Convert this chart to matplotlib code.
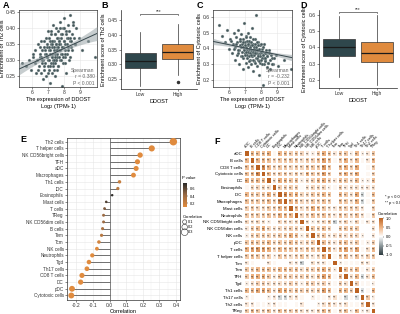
import numpy as np
import matplotlib
matplotlib.use("Agg")
import matplotlib.pyplot as plt
from matplotlib.colors import LinearSegmentedColormap, Normalize

plt.rcParams['font.family'] = ['Liberation Sans', 'DejaVu Sans']

# ---------------- data ----------------
xA = [5.38, 5.62, 5.81, 5.93, 6.02, 6.14, 6.18, 6.25, 6.31, 6.36,
      6.41, 6.45, 6.49, 6.52, 6.56, 6.58, 6.63, 6.66, 6.69, 6.72,
      6.75, 6.78, 6.81, 6.84, 6.87, 6.89, 6.92, 6.95, 6.97, 7.01,
      7.03, 7.05, 7.08, 7.1, 7.12, 7.14, 7.17, 7.19, 7.21, 7.23,
      7.25, 7.27, 7.29, 7.31, 7.33, 7.35, 7.37, 7.39, 7.41, 7.43,
      7.45, 7.48, 7.5, 7.52, 7.55, 7.57, 7.6, 7.62, 7.65, 7.67,
      7.7, 7.72, 7.75, 7.78, 7.8, 7.83, 7.86, 7.89, 7.92, 7.95,
      7.98, 8.02, 8.05, 8.09, 8.12, 8.16, 8.2, 8.24, 8.28, 8.33,
      8.38, 8.44, 8.5, 8.57, 8.65, 8.74, 8.9, 9.1, 9.45, 9.9]
yA = [0.29, 0.28, 0.30, 0.27, 0.31, 0.29, 0.33, 0.26, 0.30, 0.35,
      0.28, 0.32, 0.31, 0.26, 0.36, 0.29, 0.33, 0.24, 0.30, 0.34,
      0.27, 0.32, 0.29, 0.37, 0.25, 0.31, 0.34, 0.28, 0.39, 0.30,
      0.33, 0.27, 0.36, 0.23, 0.32, 0.29, 0.35, 0.38, 0.26, 0.31,
      0.34, 0.28, 0.41, 0.30, 0.33, 0.36, 0.29, 0.25, 0.38, 0.32,
      0.35, 0.30, 0.40, 0.27, 0.34, 0.31, 0.37, 0.28, 0.33, 0.36,
      0.30, 0.42, 0.35, 0.32, 0.38, 0.22, 0.34, 0.40, 0.29, 0.36,
      0.43, 0.31, 0.35, 0.39, 0.26, 0.37, 0.33, 0.41, 0.30, 0.36,
      0.44, 0.34, 0.38, 0.42, 0.35, 0.40, 0.37, 0.33, 0.36, 0.31]
xA2 = [6.05, 6.33, 6.47, 6.61, 6.7, 6.76, 6.82, 6.9, 6.93, 6.99,
       7.02, 7.06, 7.09, 7.13, 7.16, 7.2, 7.22, 7.26, 7.28, 7.32,
       7.34, 7.36, 7.4, 7.42, 7.44, 7.46, 7.49, 7.51, 7.53, 7.56,
       7.58, 7.61, 7.63, 7.66, 7.68, 7.71, 7.73, 7.76, 7.79, 7.81,
       7.84, 7.87, 7.9, 7.93, 7.96, 8.0, 8.03, 8.07, 8.1, 8.14,
       8.18, 8.22, 8.26, 8.31, 8.36, 8.41, 8.47, 8.53, 8.6, 8.68,
       6.54, 6.88, 7.07, 7.24, 7.38, 7.54, 7.69, 7.85, 8.02, 8.35]
yA2 = [0.32, 0.27, 0.34, 0.30, 0.36, 0.28, 0.33, 0.31, 0.35, 0.26,
       0.37, 0.30, 0.33, 0.28, 0.39, 0.31, 0.35, 0.32, 0.29, 0.36,
       0.27, 0.34, 0.31, 0.38, 0.29, 0.33, 0.35, 0.30, 0.37, 0.32,
       0.39, 0.34, 0.28, 0.36, 0.31, 0.33, 0.40, 0.35, 0.30, 0.37,
       0.32, 0.38, 0.34, 0.31, 0.36, 0.40, 0.33, 0.29, 0.38, 0.35,
       0.32, 0.37, 0.34, 0.39, 0.31, 0.36, 0.33, 0.41, 0.37, 0.35,
       0.31, 0.32, 0.34, 0.36, 0.30, 0.33, 0.35, 0.34, 0.32, 0.37]
fitA = (0.0228, 0.154)   # slope, intercept
statA = ["Spearman", "r = 0.380", "P < 0.001"]

xC = [5.35, 5.55, 5.72, 5.88, 5.97, 6.08, 6.15, 6.22, 6.28, 6.34,
      6.39, 6.44, 6.48, 6.51, 6.55, 6.59, 6.62, 6.65, 6.68, 6.71,
      6.74, 6.77, 6.8, 6.83, 6.86, 6.88, 6.91, 6.94, 6.96, 6.99,
      7.02, 7.04, 7.07, 7.09, 7.11, 7.13, 7.16, 7.18, 7.2, 7.22,
      7.24, 7.26, 7.28, 7.3, 7.32, 7.34, 7.36, 7.38, 7.4, 7.42,
      7.44, 7.47, 7.49, 7.51, 7.54, 7.56, 7.59, 7.61, 7.64, 7.66,
      7.69, 7.71, 7.74, 7.77, 7.79, 7.82, 7.85, 7.88, 7.91, 7.94,
      7.97, 8.01, 8.04, 8.08, 8.11, 8.15, 8.19, 8.23, 8.27, 8.32,
      8.37, 8.43, 8.49, 8.56, 8.64, 8.73, 8.88, 9.05, 9.4, 9.85]
yC = [0.55, 0.48, 0.44, 0.52, 0.40, 0.46, 0.37, 0.43, 0.50, 0.33,
      0.41, 0.47, 0.36, 0.44, 0.52, 0.39, 0.30, 0.45, 0.42, 0.35,
      0.49, 0.38, 0.43, 0.27, 0.46, 0.34, 0.40, 0.56, 0.37, 0.44,
      0.31, 0.41, 0.48, 0.36, 0.39, 0.45, 0.28, 0.42, 0.50, 0.35,
      0.38, 0.44, 0.33, 0.40, 0.47, 0.30, 0.37, 0.42, 0.53, 0.35,
      0.39, 0.26, 0.43, 0.36, 0.41, 0.32, 0.46, 0.38, 0.34, 0.61,
      0.40, 0.29, 0.37, 0.44, 0.33, 0.39, 0.23, 0.36, 0.42, 0.31,
      0.38, 0.34, 0.40, 0.17, 0.36, 0.30, 0.43, 0.33, 0.37, 0.28,
      0.35, 0.31, 0.39, 0.27, 0.34, 0.30, 0.36, 0.29, 0.33, 0.27]
xC2 = [6.1, 6.3, 6.45, 6.58, 6.67, 6.74, 6.8, 6.87, 6.92, 6.98,
       7.01, 7.05, 7.08, 7.12, 7.15, 7.19, 7.23, 7.25, 7.29, 7.31,
       7.35, 7.37, 7.39, 7.43, 7.45, 7.48, 7.5, 7.53, 7.55, 7.58,
       7.6, 7.63, 7.65, 7.68, 7.7, 7.73, 7.75, 7.78, 7.81, 7.84,
       7.86, 7.9, 7.93, 7.96, 7.99, 8.03, 8.06, 8.1, 8.13, 8.17,
       8.21, 8.25, 8.3, 8.35, 8.4, 8.46, 8.52, 8.59, 8.67, 8.8,
       6.52, 6.84, 7.03, 7.21, 7.33, 7.46, 7.62, 7.8, 7.98, 8.2]
yC2 = [0.45, 0.40, 0.43, 0.37, 0.46, 0.41, 0.35, 0.44, 0.39, 0.42,
       0.36, 0.47, 0.40, 0.34, 0.43, 0.38, 0.45, 0.32, 0.41, 0.37,
       0.44, 0.39, 0.35, 0.42, 0.38, 0.46, 0.33, 0.40, 0.36, 0.43,
       0.38, 0.31, 0.41, 0.37, 0.44, 0.34, 0.39, 0.42, 0.36, 0.32,
       0.40, 0.37, 0.35, 0.43, 0.33, 0.38, 0.30, 0.36, 0.41, 0.34,
       0.37, 0.32, 0.39, 0.35, 0.31, 0.37, 0.33, 0.36, 0.30, 0.34,
       0.39, 0.41, 0.38, 0.40, 0.36, 0.39, 0.37, 0.35, 0.38, 0.34]
fitC = (-0.021, 0.55)
statC = ["Spearman", "r = -0.232", "P < 0.001"]

groups = ["Low", "High"]
# q1, median, q3, whisker low, whisker high, outliers
boxB = [(0.287, 0.310, 0.338, 0.225, 0.410, []),
        (0.318, 0.342, 0.368, 0.265, 0.435, [0.240])]
boxD = [(0.344, 0.403, 0.452, 0.218, 0.594, []),
        (0.310, 0.368, 0.434, 0.169, 0.600, [])]

cells_E = ["Th2 cells", "T helper cells", "NK CD56bright cells", "TFH", "aDC",
           "Macrophages", "Th1 cells", "iDC", "Eosinophils", "Mast cells",
           "T cells", "TReg", "NK CD56dim cells", "B cells", "Tem", "Tcm",
           "NK cells", "Neutrophils", "Tgd", "Th17 cells", "CD8 T cells",
           "DC", "pDC", "Cytotoxic cells"]
corr_E = [0.384, 0.254, 0.184, 0.168, 0.160, 0.144, 0.060, 0.050, 0.016,
          -0.020, -0.030, -0.036, -0.036, -0.042, -0.048, -0.064, -0.076,
          -0.104, -0.124, -0.136, -0.166, -0.174, -0.226, -0.230]
pval_E = [0.0, 0.0, 0.0, 0.0, 0.0, 0.0, 0.21, 0.27, 0.75, 0.66, 0.52, 0.42,
          0.42, 0.35, 0.29, 0.16, 0.09, 0.02, 0.0, 0.0, 0.0, 0.0, 0.0, 0.0]

cells_F = ["aDC", "B cells", "CD8 T cells", "Cytotoxic cells", "DC",
           "Eosinophils", "iDC", "Macrophages", "Mast cells", "Neutrophils",
           "NK CD56bright cells", "NK CD56dim cells", "NK cells", "pDC",
           "T cells", "T helper cells", "Tcm", "Tem", "TFH", "Tgd",
           "Th1 cells", "Th17 cells", "Th2 cells", "TReg"]
lower_F = [
    [],
    [0.45],
    [0.40, 0.45],
    [0.40, 0.45, 0.75],
    [0.50, 0.40, 0.45, 0.45],
    [0.05, 0.25, 0.25, 0.25, 0.20],
    [0.45, 0.35, 0.35, 0.35, 0.50, 0.30],
    [0.40, 0.35, 0.35, 0.35, 0.45, 0.30, 0.75],
    [0.30, 0.35, 0.25, 0.25, 0.35, 0.30, 0.45, 0.45],
    [0.35, 0.35, 0.35, 0.35, 0.40, 0.30, 0.50, 0.45, 0.45],
    [0.25, 0.20, 0.25, 0.20, 0.10, 0.03, 0.25, 0.25, 0.20, 0.25],
    [0.15, 0.35, 0.40, 0.50, 0.25, 0.20, 0.25, 0.25, 0.30, 0.30, 0.20],
    [0.10, 0.30, 0.35, 0.35, 0.30, 0.25, 0.35, 0.35, 0.50, 0.40, 0.10, 0.35],
    [0.35, 0.40, 0.35, 0.35, 0.45, 0.25, 0.35, 0.30, 0.40, 0.35, 0.20, 0.30, 0.35],
    [0.50, 0.60, 0.65, 0.60, 0.50, 0.25, 0.45, 0.40, 0.35, 0.40, 0.25, 0.40, 0.35, 0.40],
    [0.35, 0.40, 0.35, 0.30, 0.30, 0.10, 0.35, 0.30, 0.20, 0.30, 0.35, 0.25, 0.15, 0.25, 0.50],
    [0.15, 0.05, 0.00, 0.00, 0.15, 0.05, 0.00, 0.00, 0.15, 0.15, -0.25, 0.00, 0.20, 0.15, 0.15, 0.05],
    [0.35, 0.35, 0.45, 0.40, 0.40, 0.30, 0.45, 0.40, 0.35, 0.40, 0.20, 0.35, 0.30, 0.40, 0.50, 0.35, 0.10],
    [0.35, 0.50, 0.50, 0.50, 0.35, 0.15, 0.35, 0.35, 0.30, 0.30, 0.30, 0.35, 0.20, 0.40, 0.60, 0.45, 0.05, 0.40],
    [0.10, 0.20, 0.30, 0.30, 0.20, 0.20, 0.20, 0.20, 0.30, 0.25, 0.10, 0.35, 0.30, 0.20, 0.30, 0.15, 0.05, 0.30, 0.20],
    [0.45, 0.45, 0.55, 0.55, 0.45, 0.20, 0.55, 0.50, 0.30, 0.40, 0.30, 0.35, 0.25, 0.35, 0.60, 0.40, 0.05, 0.45, 0.45, 0.30],
    [0.10, 0.05, 0.00, 0.00, 0.10, 0.15, -0.20, -0.20, 0.15, 0.20, 0.05, 0.00, 0.10, 0.05, 0.05, 0.15, 0.20, 0.05, -0.20, 0.05, -0.15],
    [0.15, 0.15, 0.05, 0.05, 0.10, 0.15, 0.05, 0.05, 0.00, 0.05, 0.15, 0.00, 0.00, 0.10, 0.20, 0.30, 0.15, 0.15, 0.20, 0.05, 0.05, 0.35],
    [0.35, 0.45, 0.35, 0.30, 0.40, 0.20, 0.40, 0.35, 0.30, 0.35, 0.20, 0.20, 0.15, 0.30, 0.45, 0.35, 0.05, 0.30, 0.40, 0.10, 0.45, 0.10, 0.15],
]

# ---------------- style ----------------
DARK = '#2f474c'
ORANGE = '#e08b3e'
TICK = 3.6
LAB = 4.0
W, H = 400, 314

fig = plt.figure(figsize=(4.0, 3.14), dpi=100)

def rect(x0, y0, x1, y1):
    return [x0 / W, 1 - y1 / H, (x1 - x0) / W, (y1 - y0) / H]

def bw_style(ax):
    ax.set_facecolor('white')
    for s in ax.spines.values():
        s.set_color('#333333'); s.set_linewidth(0.5)
    ax.grid(True, color='#e6e6e6', lw=0.4)
    ax.set_axisbelow(True)
    ax.tick_params(labelsize=TICK, length=1.5, width=0.4, pad=0.8, colors='#333333')

def classic_style(ax):
    for s in ['top', 'right']:
        ax.spines[s].set_visible(False)
    for s in ['left', 'bottom']:
        ax.spines[s].set_color('#222222'); ax.spines[s].set_linewidth(0.5)
    ax.tick_params(labelsize=TICK, length=1.5, width=0.4, pad=0.8, colors='#333333')

def scatter_panel(ax, xs, ys, fit, stat, ylab, xlim, ylim, yticks, two_dec):
    bw_style(ax)
    ax.scatter(xs, ys, s=4.5, c='#44575a', edgecolors='#aab5b5', linewidths=0.25, zorder=2)
    xx = np.linspace(xlim[0], xlim[1], 50)
    yy = fit[0] * xx + fit[1]
    xm = np.mean(xs)
    half = 0.006 * (1 + ((xx - xm) / 1.6) ** 2)
    ax.fill_between(xx, yy - half, yy + half, color='#9aa5a8', alpha=0.55, lw=0, zorder=3)
    ax.plot(xx, yy, color='#37474c', lw=0.7, zorder=4)
    ax.set_xlim(*xlim); ax.set_ylim(*ylim)
    ax.set_xticks([6, 7, 8, 9]); ax.set_yticks(yticks)
    ax.set_yticklabels([f"{v:.2f}" if two_dec else f"{v:.1f}" for v in yticks])
    ax.set_ylabel(ylab, fontsize=LAB, labelpad=0.8)
    ax.set_xlabel("The expression of DDOST\nLog$_2$ (TPM+1)", fontsize=LAB, labelpad=1.2, linespacing=1.0)
    for i, t in enumerate(stat):
        ax.text(0.97, 0.22 - i * 0.085, t, transform=ax.transAxes, ha='right', va='center',
                fontsize=3.6, color='#666666', zorder=5)

def box_panel(ax, stats, ylab, ylim, yticks, ybr, two_dec):
    classic_style(ax)
    bxs = []
    for g, (q1, med, q3, wl, wh, fl) in zip(groups, stats):
        bxs.append(dict(label=g, q1=q1, med=med, q3=q3, whislo=wl, whishi=wh, fliers=fl))
    res = ax.bxp(bxs, positions=[1, 2], widths=0.82, patch_artist=True, showcaps=False,
                 medianprops=dict(color='#1a1a1a', lw=0.9),
                 whiskerprops=dict(color='#333333', lw=0.5),
                 boxprops=dict(lw=0.5, edgecolor='#333333'),
                 flierprops=dict(marker='o', markersize=1.5, markerfacecolor='#333333',
                                 markeredgecolor='#333333'))
    for p, col in zip(res['boxes'], [DARK, ORANGE]):
        p.set_facecolor(col)
    ax.set_xlim(0.48, 2.52)
    ax.set_ylim(*ylim); ax.set_yticks(yticks)
    ax.set_yticklabels([f"{v:.2f}" if two_dec else f"{v:.1f}" for v in yticks])
    ax.set_ylabel(ylab, fontsize=LAB, labelpad=1.2)
    ax.set_xlabel("DDOST", fontsize=LAB, labelpad=1.5)
    d = (ylim[1] - ylim[0]) * 0.015
    ax.plot([1, 1, 2, 2], [ybr - d, ybr, ybr, ybr - d], color='#333333', lw=0.45, clip_on=False)
    ax.text(1.5, ybr, "***", ha='center', va='bottom', fontsize=3.5, color='#333333')

# ---------------- A ----------------
axA = fig.add_axes(rect(19, 10, 97, 87))
scatter_panel(axA, xA + xA2, yA + yA2, fitA, statA, "Enrichment of Th2 cells",
              (5.17, 10.04), (0.216, 0.456), [0.25, 0.30, 0.35, 0.40, 0.45], True)
# ---------------- B ----------------
axB = fig.add_axes(rect(121, 10, 197, 89))
box_panel(axB, boxB, "Enrichment score of Th2 cells", (0.216, 0.484),
          [0.25, 0.30, 0.35, 0.40, 0.45], 0.470, True)
# ---------------- C ----------------
axC = fig.add_axes(rect(213, 10, 292, 87))
scatter_panel(axC, xC + xC2, yC + yC2, fitC, statC, "Enrichment of Cytotoxic cells",
              (5.0, 9.9), (0.156, 0.644), [0.2, 0.3, 0.4, 0.5, 0.6], False)
# ---------------- D ----------------
axD = fig.add_axes(rect(319, 10, 397, 88))
box_panel(axD, boxD, "Enrichment score of Cytotoxic cells", (0.15, 0.63),
          [0.2, 0.3, 0.4, 0.5, 0.6], 0.618, False)

# ---------------- E ----------------
axE = fig.add_axes(rect(67, 137.7, 180, 299.5))
bw_style(axE)
n = len(cells_E)
ypos = np.arange(n)[::-1]
pcmap = LinearSegmentedColormap.from_list('pv', [ORANGE, '#9a6a43', '#2a2a2a'])
pnorm = Normalize(vmin=0.09, vmax=0.77)
axE.axvline(0, color='#555555', lw=0.5, zorder=1)
for yv, c in zip(ypos, corr_E):
    axE.plot([0, c], [yv, yv], color='#6f6f6f', lw=0.7, zorder=2)
sizes = [2 + 70 * abs(c) for c in corr_E]
axE.scatter(corr_E, ypos, s=sizes, c=pval_E, cmap=pcmap, norm=pnorm, zorder=3, linewidths=0)
axE.set_ylim(-0.6, n - 0.4)
axE.set_xlim(-0.256, 0.424)
axE.set_xticks([-0.2, -0.1, 0.0, 0.1, 0.2, 0.3, 0.4])
axE.set_xticklabels(["-0.2", "-0.1", "0.0", "0.1", "0.2", "0.3", "0.4"])
axE.set_xticks(np.arange(-0.25, 0.45, 0.1), minor=True)
axE.grid(True, which='minor', axis='x', color='#f0f0f0', lw=0.3)
axE.tick_params(which='minor', length=0)
axE.set_yticks(ypos)
axE.set_yticklabels(cells_E, fontsize=3.3)
axE.set_xlabel("Correlation", fontsize=LAB, labelpad=1)

caxE = fig.add_axes(rect(183, 183, 187, 207))
cbE = fig.colorbar(plt.cm.ScalarMappable(norm=pnorm, cmap=pcmap), cax=caxE, ticks=[0.2, 0.4, 0.6])
cbE.outline.set_visible(False)
caxE.tick_params(labelsize=2.8, length=1, width=0.3, pad=0.8)
fig.text(182 / W, 1 - 180 / H, "P value", fontsize=3.0, ha='left', va='bottom')
handles = [axE.scatter([], [], s=2 + 70 * v, facecolors='none', edgecolors='#333333', linewidths=0.4)
           for v in [0.1, 0.2, 0.3]]
legE = fig.legend(handles, ["0.1", "0.2", "0.3"], title="Correlation", loc='upper left',
                  bbox_to_anchor=(180 / W, 1 - 212 / H), frameon=False, fontsize=2.8,
                  title_fontsize=3.0, handletextpad=0.2, labelspacing=0.3, borderpad=0.2,
                  handlelength=1.0, alignment='left')

# ---------------- F ----------------
m = len(cells_F)
M = np.eye(m)
for i, row in enumerate(lower_F):
    for j, v in enumerate(row):
        M[i, j] = v; M[j, i] = v
hcmap = LinearSegmentedColormap.from_list(
    'hm', [(0.0, '#2e3b40'), (0.25, '#8d989b'), (0.5, '#ffffff'), (0.75, '#eeb17f'), (1.0, '#bb6222')])
axF = fig.add_axes(rect(244, 150, 376, 314.4))
axF.pcolormesh(np.arange(m + 1) - 0.5, np.arange(m + 1) - 0.5, M, cmap=hcmap, vmin=-1, vmax=1,
               edgecolors='white', linewidth=0.35)
axF.set_xlim(-0.5, m - 0.5); axF.set_ylim(m - 0.5, -0.5)
for i in range(m):
    for j in range(m):
        if i == j:
            continue
        v = abs(M[i, j])
        s = "**" if v >= 0.12 else ("*" if v >= 0.08 else "")
        if s:
            axF.text(j, i + 0.12, s, ha='center', va='center', fontsize=3.0, color='#2a2a2a')
for s in axF.spines.values():
    s.set_visible(False)
axF.set_yticks(range(m))
axF.set_yticklabels(cells_F, fontsize=3.2)
axF.xaxis.tick_top()
axF.set_xticks(range(m))
axF.set_xticklabels(cells_F, fontsize=2.8, rotation=45, ha='left', rotation_mode='anchor')
axF.tick_params(length=0, pad=1)

caxF = fig.add_axes(rect(379, 218, 383, 255))
cbF = fig.colorbar(plt.cm.ScalarMappable(norm=Normalize(-1, 1), cmap=hcmap), cax=caxF,
                   ticks=[-1.0, -0.5, 0.0, 0.5, 1.0])
cbF.outline.set_visible(False)
caxF.set_yticklabels(["-1.0", "-0.5", "0.0", "0.5", "1.0"])
caxF.tick_params(labelsize=2.8, length=1, width=0.3, pad=0.8)
fig.text(378 / W, 1 - 216 / H, "Correlation", fontsize=3.0, ha='left', va='bottom')
fig.text(385 / W, 1 - 197 / H, "* p < 0.05", fontsize=2.8, ha='left', va='center')
fig.text(385 / W, 1 - 203 / H, "** p < 0.01", fontsize=2.8, ha='left', va='center')

# ---------------- panel letters ----------------
for lab, x, y in [("A", 3, 6), ("B", 101, 6), ("C", 197, 6), ("D", 300, 6),
                  ("E", 20, 140), ("F", 214, 141)]:
    fig.text(x / W, 1 - y / H, lab, fontsize=6.5, fontweight='bold', ha='left', va='center')

fig.savefig("out.png", dpi=100)
